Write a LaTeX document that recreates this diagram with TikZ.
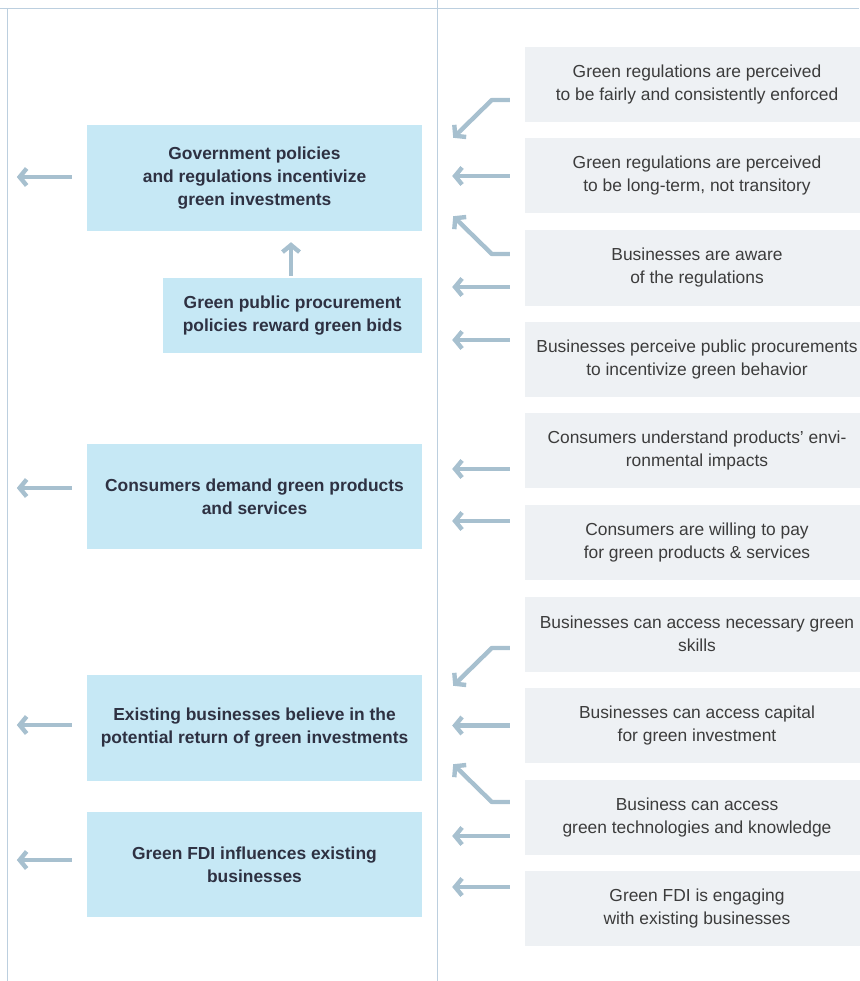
\documentclass[tikz,border=0pt]{standalone}
\usepackage{fontspec}
\setmainfont{Liberation Sans}
\usetikzlibrary{arrows.meta,calc}
\definecolor{leftfill}{HTML}{C6E8F5}
\definecolor{rightfill}{HTML}{EEF1F4}
\definecolor{rule}{HTML}{BCCFDF}
\definecolor{arrowc}{HTML}{A7C0CF}
\definecolor{lefttext}{HTML}{2E3142}
\definecolor{righttext}{HTML}{3C3C3C}
\tikzset{
  x=1pt, y=-1pt,
  leftbox/.style={fill=leftfill, draw=none, minimum width=335pt, minimum height=106pt,
    align=center, inner sep=0pt, text=lefttext,
    font=\fontsize{17.4}{23}\selectfont\bfseries},
  rightbox/.style={fill=rightfill, draw=none, minimum width=344pt, minimum height=75pt,
    align=center, inner sep=0pt, text=righttext,
    font=\fontsize{17.4}{23}\selectfont},
  arr/.style={draw=arrowc, line width=4.4pt,
    -{Straight Barb[length=7pt,width=17pt,line width=4.4pt]}},
  ruleline/.style={draw=rule, line width=1pt}
}
\begin{document}
\begin{tikzpicture}
\useasboundingbox (0,0) rectangle (859,981);
% frame lines
\draw[ruleline] (0,8.5) -- (859,8.5);
\draw[ruleline] (7.5,8.5) -- (7.5,981);
\draw[ruleline] (437.5,0) -- (437.5,981);

% left boxes
\node[leftbox] (gov) at (254.5,178) {Government policies\\and regulations incentivize\\green investments};
\node[leftbox, minimum width=259pt, minimum height=75pt] (proc) at (292.5,315.5) {Green public procurement\\policies reward green bids};
\node[leftbox, minimum height=105pt] (cons) at (254.5,496.5) {Consumers demand green products\\and services};
\node[leftbox] (exist) at (254.5,728) {Existing businesses believe in the\\potential return of green investments};
\node[leftbox, minimum height=105pt] (fdi) at (254.5,864.5) {Green FDI influences existing\\businesses};

% right boxes
\node[rightbox] (r1) at (697,84.5) {Green regulations are perceived\\to be fairly and consistently enforced};
\node[rightbox] (r2) at (697,176) {Green regulations are perceived\\to be long-term, not transitory};
\node[rightbox] (r3) at (697,268) {Businesses are aware\\of the regulations};
\node[rightbox] (r4) at (697,359.5) {Businesses perceive public procurements\\to incentivize green behavior};
\node[rightbox] (r5) at (697,450.5) {Consumers understand products’ envi-\\ronmental impacts};
\node[rightbox] (r6) at (697,542.5) {Consumers are willing to pay\\for green products \& services};
\node[rightbox] (r7) at (697,634) {Businesses can access necessary green\\skills};
\node[rightbox] (r8) at (697,725.5) {Businesses can access capital\\for green investment};
\node[rightbox] (r9) at (697,817.5) {Business can access\\green technologies and knowledge};
\node[rightbox] (r10) at (697,908.5) {Green FDI is engaging\\with existing businesses};

% outgoing arrows on the left
\coordinate (o1) at ($(gov.west)+(-70,-1)$);
\coordinate (o2) at ($(cons.west)+(-70,-8.5)$);
\coordinate (o3) at ($(exist.west)+(-70,-3)$);
\coordinate (o4) at ($(fdi.west)+(-70,-4.5)$);
\draw[arr] ($(gov.west)+(-15,-1)$) -- (o1);
\draw[arr] ($(cons.west)+(-15,-8.5)$) -- (o2);
\draw[arr] ($(exist.west)+(-15,-3)$) -- (o3);
\draw[arr] ($(fdi.west)+(-15,-4.5)$) -- (o4);

% procurement to government
\draw[arr] ($(proc.north)+(-1.5,-2)$) -- ($(gov.south)+(36.5,11)$);

% right-side arrows
\draw[arr, line join=round] ($(r1.west)+(-15,15.5)$) -- ++(-18,0) -- ($(gov.north east)+(31,13)$);
\draw[arr] ($(r2.west)+(-15,0)$) -- ($(gov.east |- r2.west)+(30,0)$);
\draw[arr, line join=round] ($(r3.west)+(-15,-14)$) -- ++(-18,0) -- ($(gov.south east)+(31,-15)$);
\draw[arr] ($(r3.west)+(-15,19)$) -- ($(proc.east |- r3.west)+(30,19)$);
\draw[arr] ($(r4.west)+(-15,-19.5)$) -- ($(proc.east |- r4.west)+(30,-19.5)$);
\draw[arr] ($(r5.west)+(-15,18.5)$) -- ($(cons.east |- r5.west)+(30,18.5)$);
\draw[arr] ($(r6.west)+(-15,-21.5)$) -- ($(cons.east |- r6.west)+(30,-21.5)$);
\draw[arr, line join=round] ($(r7.west)+(-15,14)$) -- ++(-18,0) -- ($(exist.north east)+(31,11)$);
\draw[arr] ($(r8.west)+(-15,0)$) -- ($(exist.east |- r8.west)+(30,0)$);
\draw[arr, line join=round] ($(r9.west)+(-15,-15.5)$) -- ++(-18,0) -- ($(exist.south east)+(31,-17)$);
\draw[arr] ($(r9.west)+(-15,18.5)$) -- ($(fdi.east |- r9.west)+(30,18.5)$);
\draw[arr] ($(r10.west)+(-15,-21.5)$) -- ($(fdi.east |- r10.west)+(30,-21.5)$);
\end{tikzpicture}
\end{document}
